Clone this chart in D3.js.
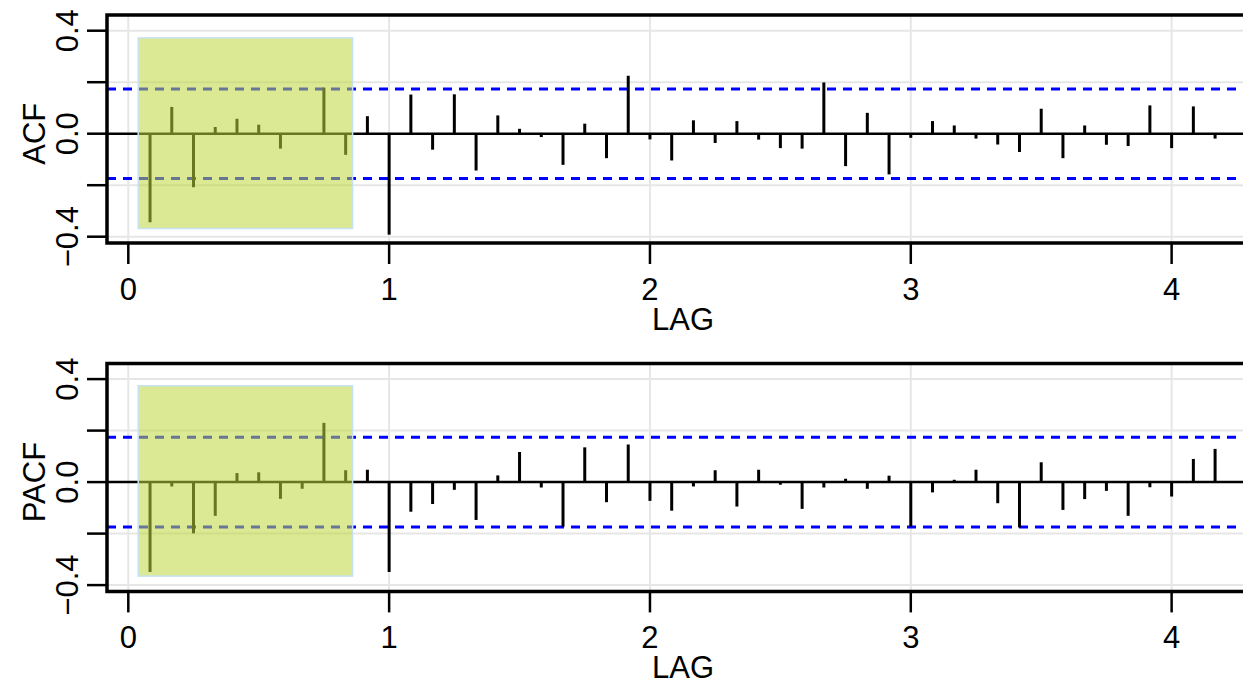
<!DOCTYPE html>
<html>
<head>
<meta charset="utf-8">
<script src="https://cdn.jsdelivr.net/npm/d3@7"></script>
<style>
	body { margin: 0; background: #fff; }
	svg { display: block; font-family: "Liberation Sans", Arial, sans-serif; }
</style>
</head>
<body>
<svg id="chart" width="1243" height="682"></svg>
<script>
// lags in months (plotted as lag / 12)
var lagMonths = d3.range(1, 51);
var acfValues = [-0.344, 0.104, -0.208, 0.026, 0.058, 0.035, -0.058, 0.0, 0.179, -0.082,
	0.068, -0.392, 0.152, -0.062, 0.153, -0.143, 0.071, 0.019, -0.013, -0.121,
	0.039, -0.095, 0.225, -0.022, -0.104, 0.052, -0.036, 0.049, -0.023, -0.056,
	-0.058, 0.199, -0.126, 0.081, -0.158, -0.016, 0.049, 0.032, -0.019, -0.042,
	-0.071, 0.097, -0.095, 0.032, -0.043, -0.048, 0.110, -0.056, 0.106, -0.019];
var pacfValues = [-0.349, -0.017, -0.199, -0.131, 0.035, 0.038, -0.065, -0.026, 0.230, 0.046,
	0.048, -0.349, -0.115, -0.085, -0.030, -0.147, 0.026, 0.117, -0.021, -0.173,
	0.135, -0.078, 0.146, -0.073, -0.111, -0.017, 0.046, -0.095, 0.048, -0.010,
	-0.104, -0.021, 0.013, -0.026, 0.025, -0.173, -0.040, 0.009, 0.048, -0.082,
	-0.176, 0.077, -0.108, -0.066, -0.034, -0.131, -0.020, -0.056, 0.090, 0.129];
var ciLimit = 0.174;
var yTicks = [-0.4, -0.2, 0, 0.2, 0.4];
var yTickLabels = [-0.4, 0, 0.4];
var xTicks = [0, 1, 2, 3, 4];
// highlighted first year (x from/to, y from/to)
var highlightX = [0.038, 0.86];
var acfHighlightY = [-0.368, 0.372];
var pacfHighlightY = [-0.365, 0.374];

var svg = d3.select("#chart");
var x = d3.scaleLinear().domain([0, 4.335]).range([128.3, 1259]);
var y = d3.scaleLinear().domain([-0.4, 0.4]).range([236.7, 30.7]);
var fmt = function(v) { return v == 0 ? "0.0" : d3.format(".1f")(v); };

var left = 107, right = 1259, frameTop = 15, frameBottom = 243;

drawPanel(svg.append("g"), acfValues, acfHighlightY, "ACF");
drawPanel(svg.append("g").attr("transform", "translate(0,348.4)"), pacfValues, pacfHighlightY, "PACF");

/* one correlogram panel
* @param g        group to draw into
* @param values   correlations by lag
* @param hy       y extent of the highlight box
* @param label    y axis title
* */
function drawPanel(g, values, hy, label) {
	// grid
	g.selectAll(".gx").data(xTicks).enter().append("line")
		.attr("x1", function(d) { return x(d); }).attr("x2", function(d) { return x(d); })
		.attr("y1", frameTop).attr("y2", frameBottom)
		.attr("stroke", "#e6e6e6").attr("stroke-width", 2);
	g.selectAll(".gy").data(yTicks.filter(function(d) { return d != 0; })).enter().append("line")
		.attr("x1", left).attr("x2", right)
		.attr("y1", function(d) { return y(d); }).attr("y2", function(d) { return y(d); })
		.attr("stroke", "#e6e6e6").attr("stroke-width", 2);

	// confidence limits
	g.selectAll(".ci").data([ciLimit, -ciLimit]).enter().append("line")
		.attr("x1", left).attr("x2", right)
		.attr("y1", function(d) { return y(d); }).attr("y2", function(d) { return y(d); })
		.attr("stroke", "#0000ff").attr("stroke-width", 3).attr("stroke-dasharray", "9,7");

	// zero line
	g.append("line").attr("x1", left).attr("x2", right)
		.attr("y1", y(0)).attr("y2", y(0))
		.attr("stroke", "#000").attr("stroke-width", 2.5);

	// bars
	g.selectAll(".bar").data(values).enter().append("line")
		.attr("x1", function(d, i) { return x(lagMonths[i] / 12); })
		.attr("x2", function(d, i) { return x(lagMonths[i] / 12); })
		.attr("y1", y(0)).attr("y2", function(d) { return y(d); })
		.attr("stroke", "#000").attr("stroke-width", 3);

	// highlight box on top
	g.append("rect")
		.attr("x", x(highlightX[0])).attr("width", x(highlightX[1]) - x(highlightX[0]))
		.attr("y", y(hy[1])).attr("height", y(hy[0]) - y(hy[1]))
		.attr("fill", "rgb(190,215,60)").attr("fill-opacity", 0.55)
		.attr("stroke", "#c6e2f0").attr("stroke-width", 1.5);

	// frame
	g.append("path")
		.attr("d", "M" + right + "," + frameTop + "H" + left + "V" + frameBottom + "H" + right)
		.attr("fill", "none").attr("stroke", "#000").attr("stroke-width", 3.5);

	// y ticks
	g.selectAll(".ty").data(yTicks).enter().append("line")
		.attr("x1", left - 20).attr("x2", left)
		.attr("y1", function(d) { return y(d); }).attr("y2", function(d) { return y(d); })
		.attr("stroke", "#000").attr("stroke-width", 2.5);
	g.selectAll(".ly").data(yTickLabels).enter().append("text")
		.attr("transform", function(d) { return "translate(78," + y(d) + ") rotate(-90)"; })
		.attr("text-anchor", "middle").attr("font-size", 31)
		.text(function(d) { return fmt(d); });
	g.append("text")
		.attr("transform", "translate(45," + y(0) + ") rotate(-90)")
		.attr("text-anchor", "middle").attr("font-size", 31)
		.text(label);

	// x ticks
	g.selectAll(".tx").data(xTicks).enter().append("line")
		.attr("x1", function(d) { return x(d); }).attr("x2", function(d) { return x(d); })
		.attr("y1", frameBottom).attr("y2", frameBottom + 21)
		.attr("stroke", "#000").attr("stroke-width", 2.5);
	g.selectAll(".lx").data(xTicks).enter().append("text")
		.attr("x", function(d) { return x(d); }).attr("y", frameBottom + 57)
		.attr("text-anchor", "middle").attr("font-size", 31)
		.text(function(d) { return d; });
	g.append("text")
		.attr("x", (left + right) / 2).attr("y", frameBottom + 87)
		.attr("text-anchor", "middle").attr("font-size", 31)
		.text("LAG");
}
</script>
</body>
</html>
